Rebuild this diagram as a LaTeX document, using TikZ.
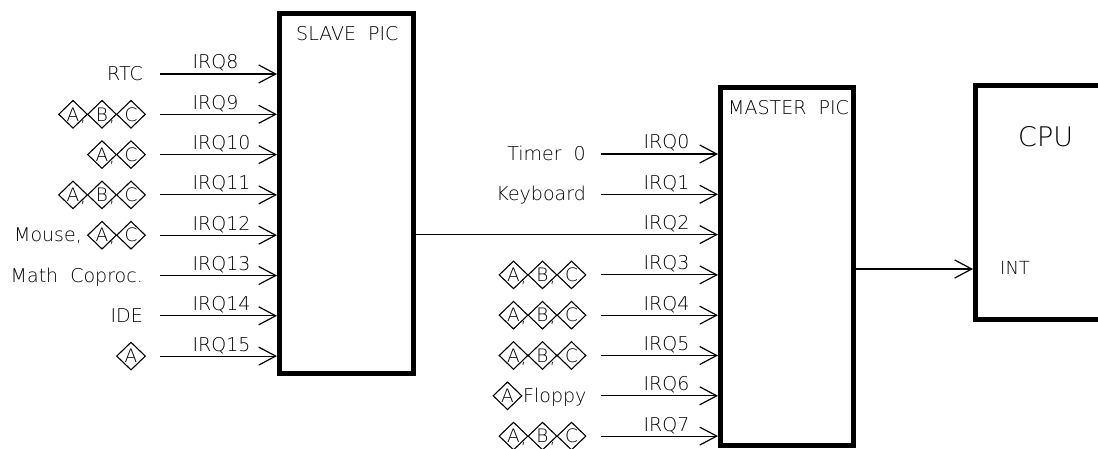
\documentclass[tikz,border=0pt]{standalone}
\usepackage{fontspec}
\IfFontExistsTF{DejaVu Sans ExtraLight}{\setmainfont{DejaVu Sans ExtraLight}}{\setmainfont{DejaVu Sans}}
\usetikzlibrary{arrows.meta,shapes.geometric}
\newcommand\fsz[1]{\fontsize{#1}{#1}\selectfont}
\tikzset{
  picbox/.style={draw, line width=5pt, inner sep=0pt},
  irq/.style={line width=1.2pt, -{Straight Barb[length=17pt,width=18pt,line width=1.2pt]}},
  txt/.style={inner sep=0pt, font=\fsz{19}},
  srclab/.style={txt, anchor=base east},
  slab/.style={txt, pos=1, anchor=base west, xshift=-85pt, yshift=5pt},
  mlab/.style={txt, pos=1, anchor=base west, xshift=-75pt, yshift=5pt},
  dmdnode/.style={draw, diamond, inner sep=0pt, minimum width=29pt, minimum height=28pt, line width=1.1pt, font=\fsz{18.5}},
  commanode/.style={inner sep=0pt, anchor=base, font=\fsz{18.5}}
}
\newcommand\dia[4]{\node[dmdnode] (#1) at (#2,#3) {#4};}
\newcommand\cma[3]{\node[commanode] (#1) at (#2,#3+7.5) {,};}
\newcommand\grpabc[3]{%
  \dia{#1a}{#2-72.5}{#3}{A}\dia{#1b}{#2-43.5}{#3}{B}\dia{#1c}{#2-14.5}{#3}{C}%
  \cma{#1k}{#2-62.5}{#3}\cma{#1l}{#2-33.5}{#3}}
\newcommand\grpac[3]{%
  \dia{#1a}{#2-43.5}{#3}{A}\dia{#1c}{#2-14.5}{#3}{C}\cma{#1k}{#2-33.5}{#3}}
\newcommand\grpa[3]{\dia{#1a}{#2-14.5}{#3}{A}}
\begin{document}
\begin{tikzpicture}[x=1pt,y=-1pt]
\useasboundingbox (0,0) rectangle (1098,449);
% boxes
\node[picbox, minimum width=134pt, minimum height=360pt] (slave) at (346.5,193.5) {};
\node[picbox, minimum width=133pt, minimum height=358pt] (master) at (787,266.5) {};
\node[picbox, minimum width=160pt, minimum height=234pt] (cpu) at (1055.5,202.5) {};
\node[txt, anchor=base west] (slavet) at (296,41) {SLAVE\ \ PIC};
\node[txt, anchor=base west] (mastert) at (728,115) {MASTER\ \ PIC};
\node[inner sep=0pt, anchor=base west, font=\fsz{27}] (cput) at (1018,147) {CPU};
\node[inner sep=0pt, anchor=base west, font=\fsz{18}] (intt) at (1000,274) {INT};
% slave sources
\node[srclab] (rtc) at (143,80.5) {RTC};
\grpabc{g9}{145.5}{114.3}
\grpac{g10}{145.5}{154.6}
\grpabc{g11}{145.5}{194.9}
\node[srclab] (mouse) at (82,241.7) {Mouse,};
\grpac{g12}{145.5}{235.2}
\node[srclab] (math) at (143,282) {Math\ \ Coproc.};
\node[srclab] (ide) at (143,322.3) {IDE};
\grpa{g15}{145.5}{356.1}
% master sources
\node[srclab] (timer) at (586,160.5) {Timer\ \ 0};
\node[srclab] (kbd) at (586,200.8) {Keyboard};
\grpabc{g3}{586}{274.9}
\grpabc{g4}{586}{315.2}
\grpabc{g5}{586}{355.5}
\grpa{g6}{522}{395.8}
\node[txt, anchor=base west] (floppy) at (523,402.3) {Floppy};
\grpabc{g7}{586}{436.1}
% start coordinates
\coordinate (s8) at (160,74);
\coordinate (s9) at (160,114.3);
\coordinate (s10) at (160,154.6);
\coordinate (s11) at (160,194.9);
\coordinate (s12) at (160,235.2);
\coordinate (s13) at (160,275.5);
\coordinate (s14) at (160,315.8);
\coordinate (s15) at (160,356.1);
\coordinate (m0) at (601,154);
\coordinate (m1) at (601,194.3);
\coordinate (m2) at (601,234.6);
\coordinate (m3) at (601,274.9);
\coordinate (m4) at (601,315.2);
\coordinate (m5) at (601,355.5);
\coordinate (m6) at (601,395.8);
\coordinate (m7) at (601,436.1);
\coordinate (inty) at (900,269);
% slave connectors
\draw[irq] (s8) -- (slave.west |- s8) node[slab] (l8) {IRQ8};
\draw[irq] (s9) -- (slave.west |- s9) node[slab] (l9) {IRQ9};
\draw[irq] (s10) -- (slave.west |- s10) node[slab] (l10) {IRQ10};
\draw[irq] (s11) -- (slave.west |- s11) node[slab] (l11) {IRQ11};
\draw[irq] (s12) -- (slave.west |- s12) node[slab] (l12) {IRQ12};
\draw[irq] (s13) -- (slave.west |- s13) node[slab] (l13) {IRQ13};
\draw[irq] (s14) -- (slave.west |- s14) node[slab] (l14) {IRQ14};
\draw[irq] (s15) -- (slave.west |- s15) node[slab] (l15) {IRQ15};
% master connectors
\draw[irq] (m0) -- (master.west |- m0) node[mlab] (l0) {IRQ0};
\draw[irq] (m1) -- (master.west |- m1) node[mlab] (l1) {IRQ1};
\draw[irq] (slave.east |- m2) -- (master.west |- m2) node[mlab] (l2) {IRQ2};
\draw[irq] (m3) -- (master.west |- m3) node[mlab] (l3) {IRQ3};
\draw[irq] (m4) -- (master.west |- m4) node[mlab] (l4) {IRQ4};
\draw[irq] (m5) -- (master.west |- m5) node[mlab] (l5) {IRQ5};
\draw[irq] (m6) -- (master.west |- m6) node[mlab] (l6) {IRQ6};
\draw[irq] (m7) -- (master.west |- m7) node[mlab] (l7) {IRQ7};
% int
\draw[irq] (master.east |- inty) -- (cpu.west |- inty);
\end{tikzpicture}
\end{document}
